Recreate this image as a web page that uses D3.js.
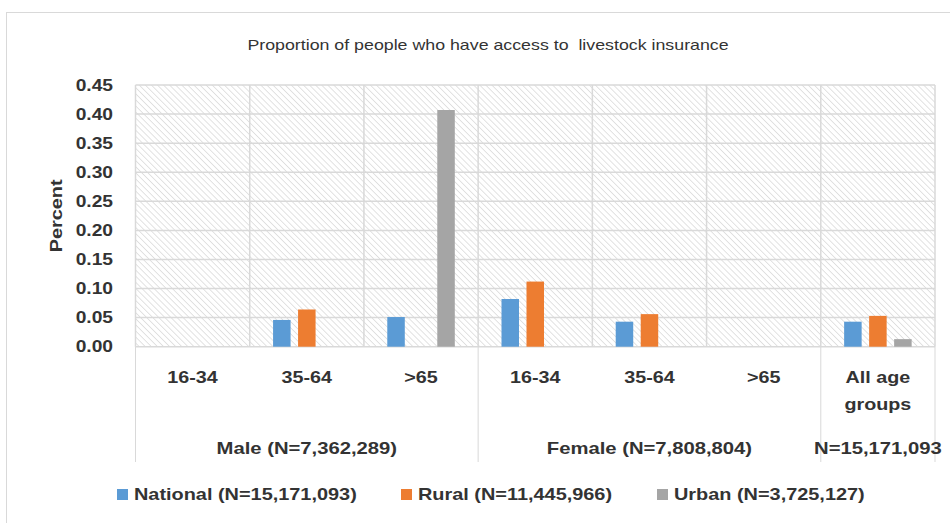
<!DOCTYPE html>
<html><head><meta charset="utf-8">
<script src="https://cdn.jsdelivr.net/npm/d3@7"></script>
<style>
body{margin:0;background:#fff;}
text{font-family:"Liberation Sans",Arial,sans-serif;fill:#333;}
</style></head>
<body><svg id="c" width="950" height="523"></svg>
<script>
const categories = ["M16-34","M35-64","M>65","F16-34","F35-64","F>65","All"];
const ageLabels = [["16-34"],["35-64"],[">65"],["16-34"],["35-64"],[">65"],["All age","groups"]];
const seriesNames = ["National (N=15,171,093)","Rural (N=11,445,966)","Urban (N=3,725,127)"];
const national = [0, 0.046, 0.051, 0.082, 0.043, 0, 0.043];
const rural    = [0, 0.064, 0, 0.112, 0.056, 0, 0.053];
const urban    = [0, 0, 0.407, 0, 0, 0, 0.013];
const groups = [{label:"Male (N=7,362,289)", from:0, to:2},{label:"Female (N=7,808,804)", from:3, to:5},{label:"N=15,171,093", from:6, to:6}];
const yTicks = [0,0.05,0.10,0.15,0.20,0.25,0.30,0.35,0.40,0.45];
const colors = ["#5b9bd5","#ed7d31","#a5a5a5"];
const title = "Proportion of people who have access to  livestock insurance";

const svg = d3.select("#c");
const L=135.5, R=935, T=85, B=346.7;

// widen text horizontally (reference font is wider than the available one)
function widen(sel, f){
  sel.each(function(){
    const w = this.getComputedTextLength();
    d3.select(this).attr("textLength", w*f).attr("lengthAdjust","spacingAndGlyphs");
  });
  return sel;
}

svg.append("rect").attr("x",6.5).attr("y",12.5).attr("width",960).attr("height",520)
  .attr("fill","#fff").attr("stroke","#d9d9d9");

const defs = svg.append("defs");
const pat = defs.append("pattern").attr("id","hatch").attr("patternUnits","userSpaceOnUse")
  .attr("width",4.3).attr("height",4.3).attr("patternTransform","rotate(45)");
pat.append("rect").attr("width",4.3).attr("height",4.3).attr("fill","#fff");
pat.append("line").attr("x1",0).attr("y1",0).attr("x2",4.3).attr("y2",0)
  .attr("stroke","#d9d9d9").attr("stroke-width",1.5);

svg.append("rect").attr("x",L).attr("y",T).attr("width",R-L).attr("height",B-T).attr("fill","url(#hatch)");

const x0 = d3.scaleBand().domain(categories).range([L,R]).padding(0);
const x1 = d3.scaleBand().domain(d3.range(3)).range([0,x0.bandwidth()]).paddingInner(0.3).paddingOuter(0.934);
const y = d3.scaleLinear().domain([0,0.45]).range([B,T]);

const grid = svg.append("g").attr("stroke","#d9d9d9").attr("stroke-width",1.5);
yTicks.forEach(t=>grid.append("line").attr("x1",L).attr("x2",R).attr("y1",y(t)).attr("y2",y(t)));
categories.forEach(c=>grid.append("line").attr("x1",x0(c)).attr("x2",x0(c)).attr("y1",T).attr("y2",B));
grid.append("line").attr("x1",R).attr("x2",R).attr("y1",T).attr("y2",B);

const seps = [x0(categories[0]), x0(categories[3]), x0(categories[6]), R];
seps.forEach(s=>svg.append("line").attr("x1",s).attr("x2",s).attr("y1",B).attr("y2",462)
  .attr("stroke","#d9d9d9").attr("stroke-width",1));

const series = [national, rural, urban];
series.forEach((vals,si)=>{
  svg.append("g").selectAll("rect").data(categories.map((c,i)=>({c,v:vals[i]})).filter(d=>d.v>0))
    .join("rect")
    .attr("x",d=>x0(d.c)+x1(si)).attr("width",x1.bandwidth())
    .attr("y",d=>y(d.v)).attr("height",d=>B-y(d.v))
    .attr("fill",colors[si]);
});

const yAxis = d3.axisLeft(y).tickValues(yTicks).tickFormat(d3.format(".2f")).tickSize(0).tickPadding(0);
const ya = svg.append("g").attr("transform",`translate(113,0)`).call(yAxis);
ya.select(".domain").remove();
const yt = ya.selectAll("text").attr("font-size",16).attr("font-weight","bold").attr("fill","#333")
  .style("font-family","'Liberation Sans',Arial,sans-serif");
widen(yt, 1.2);

widen(svg.append("text").attr("transform",`translate(62,${(T+B)/2}) rotate(-90)`)
  .attr("text-anchor","middle").attr("font-size",17).attr("font-weight","bold").text("Percent"), 1.17);

categories.forEach((c,i)=>{
  const cx = x0(c)+x0.bandwidth()/2;
  ageLabels[i].forEach((t,j)=>{
    widen(svg.append("text").attr("x",cx).attr("y",383+j*27).attr("text-anchor","middle")
      .attr("font-size",17).attr("font-weight","bold").text(t), 1.16);
  });
});
groups.forEach(g=>{
  const a = x0(categories[g.from]), b = x0(categories[g.to])+x0.bandwidth();
  widen(svg.append("text").attr("x",(a+b)/2).attr("y",454).attr("text-anchor","middle")
    .attr("font-size",17).attr("font-weight","bold").text(g.label), 1.19);
});

widen(svg.append("text").attr("x",488).attr("y",50).attr("text-anchor","middle")
  .attr("font-size",15).attr("fill","#222").style("white-space","pre").text(title), 1.185);

const legX = [117, 401, 657];
seriesNames.forEach((n,i)=>{
  svg.append("rect").attr("x",legX[i]).attr("y",489).attr("width",11).attr("height",11).attr("fill",colors[i]);
  widen(svg.append("text").attr("x",legX[i]+17).attr("y",500).attr("font-size",17).attr("font-weight","bold").text(n), 1.17);
});
</script></body></html>
